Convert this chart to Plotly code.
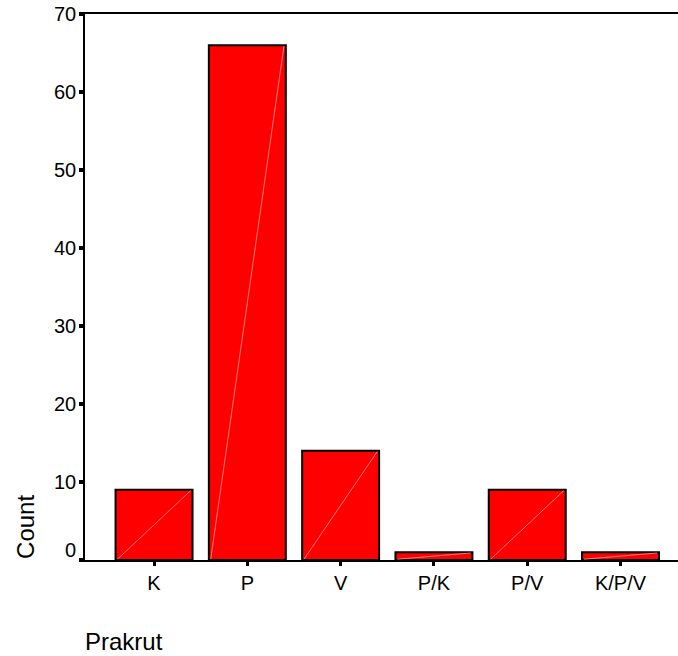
import plotly.graph_objects as go

categories = ["K", "P", "V", "P/K", "P/V", "K/P/V"]
counts = [9, 66, 14, 1, 9, 1]
y_ticks = [0, 10, 20, 30, 40, 50, 60, 70]

bar_width = 0.825
font_family = "Liberation Sans, Arial, sans-serif"

fig = go.Figure()
fig.add_trace(go.Bar(
    x=list(range(len(categories))),
    y=counts,
    width=bar_width,
    marker=dict(color="#ff0000", line=dict(color="black", width=2)),
    hoverinfo="x+y",
))

# faint diagonal artifact inside each bar
shapes = []
for i, c in enumerate(counts):
    shapes.append(dict(type="line", xref="x", yref="y",
                       x0=i - bar_width / 2 + 0.02, y0=0.1,
                       x1=i + bar_width / 2 - 0.02, y1=c - 0.1,
                       line=dict(color="rgba(255,190,190,0.8)", width=0.8),
                       layer="above"))

annotations = []
for v in y_ticks:
    annotations.append(dict(text=str(v), xref="paper", yref="y", x=0, y=v,
                            xanchor="right", yanchor="middle", xshift=-7,
                            yshift=10 if v == 0 else 0,
                            showarrow=False,
                            font=dict(family=font_family, size=20, color="black")))
annotations.append(dict(text="Count", xref="paper", yref="paper", x=-0.1, y=0.06,
                        xanchor="center", yanchor="middle", textangle=-90,
                        showarrow=False,
                        font=dict(family=font_family, size=24, color="black")))
annotations.append(dict(text="Prakrut", xref="paper", yref="paper", x=-0.004, y=-0.15,
                        xanchor="left", yanchor="middle",
                        showarrow=False,
                        font=dict(family=font_family, size=24, color="black")))

fig.update_layout(
    width=678, height=656,
    margin=dict(l=85, r=0, t=14, b=96),
    plot_bgcolor="white", paper_bgcolor="white",
    showlegend=False,
    shapes=shapes,
    annotations=annotations,
    xaxis=dict(
        range=[-0.74, 5.616],
        tickmode="array",
        tickvals=list(range(len(categories))),
        ticktext=categories,
        ticks="outside", ticklen=4, tickwidth=3, tickcolor="black",
        showline=True, linecolor="black", linewidth=2, mirror=True,
        showgrid=False, zeroline=False,
        tickfont=dict(family=font_family, size=20, color="black"),
    ),
    yaxis=dict(
        range=[0, 70],
        tickmode="array", tickvals=y_ticks,
        showticklabels=False,
        ticks="outside", ticklen=4, tickwidth=4, tickcolor="black",
        showline=True, linecolor="black", linewidth=2,
        showgrid=False, zeroline=False,
    ),
)

fig.write_html("out.html",
               config={"displayModeBar": False},
               post_script="document.body.style.margin='0';document.body.style.overflow='hidden';")
